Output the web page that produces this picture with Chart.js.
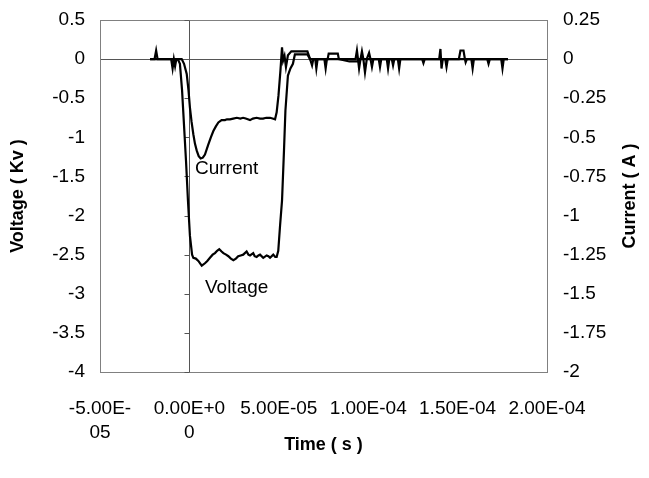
<!DOCTYPE html>
<html><head><meta charset="utf-8">
<script src="https://cdn.jsdelivr.net/npm/chart.js@4/dist/chart.umd.min.js"></script>
<style>html,body{margin:0;padding:0;background:#fff;overflow:hidden}</style>
</head><body>
<canvas id="c" width="649" height="478"></canvas>
<script>
// Voltage trace (time in microseconds, voltage in kV)
const voltageTimeUs = [-22,-19.5,-18.6,-17.8,-10.2,-9.4,-8.7,-8.0,-7.3,-6.5,-5.3,-4.1,-3.0,-1.9,-0.8,0.3,1.5,2.2,3.6,5.0,6.9,8.7,10.0,11.5,13.0,14.3,15.5,16.7,18.0,19.0,20.5,21.8,23.2,24.6,26.0,27.3,28.7,30.1,32.0,33.0,33.9,35.7,36.5,37.6,38.6,39.5,41.3,43.2,44.2,45.1,46.9,48.0,48.8,49.7,50.7,51.8,52.9,53.7,55.1,56.5,57.9,59.0,63.0,66.0,67.5,68.0,68.6,69.3,70.4,71.0,71.7,75.5,76.2,76.9,92.9,93.7,94.3,94.9,95.7,96.5,97.3,98.2,99.2,100.5,101.3,102.1,102.9,105.9,106.6,107.3,110.4,111.1,111.8,113.2,113.9,114.6,116.6,117.3,118.0,130.2,130.9,131.6,139.7,140.4,141.0,141.7,143.1,143.8,144.5,150.7,151.6,153.3,154.1,154.5,155.2,157.7,158.4,159.1,166.6,167.3,168.0,174.4,175.1,175.8,178.2];
const voltageKv = [0,0,0.11,0,0,-0.12,0,-0.09,0,0,-0.06,-0.40,-0.85,-1.30,-1.81,-2.26,-2.50,-2.54,-2.55,-2.58,-2.64,-2.61,-2.58,-2.54,-2.50,-2.48,-2.45,-2.43,-2.46,-2.48,-2.50,-2.52,-2.55,-2.57,-2.55,-2.52,-2.51,-2.50,-2.46,-2.50,-2.51,-2.48,-2.52,-2.53,-2.51,-2.50,-2.54,-2.51,-2.52,-2.54,-2.50,-2.53,-2.53,-2.45,-2.13,-1.81,-1.17,-0.66,-0.21,-0.12,-0.06,0.06,0.06,0.06,0,0,-0.08,0,0,-0.12,0,0,-0.12,0,0,0.11,0,-0.12,0,0.10,0,-0.17,0,0.08,0,-0.10,0,0,-0.10,0,0,-0.12,0,0,-0.08,0,0,-0.12,0,0,-0.05,0,0,0.13,-0.12,0,0,-0.10,0,0,0.11,0.11,0,-0.04,0,0,-0.12,0,0,-0.06,0,0,-0.12,0,0];

// Current trace (time in microseconds, current in A)
const currentTimeUs = [-22,-4.3,-3.0,-1.5,-0.5,0.3,1.2,2.2,3.1,4.1,5.2,6.3,7.5,8.7,10.6,12.0,13.4,14.8,16.2,18.0,19.9,21.0,22.7,24.5,26.5,28.5,30.0,31.5,33.9,35.5,37.6,39.5,41.2,43.0,45.1,46.5,47.9,48.8,49.8,50.9,51.8,52.4,53.2,54.0,55.1,57.0,63.0,66.0,67.5,77.3,77.9,83.0,83.6,89.5,94.0,95.0,178.2];
const currentA = [0,0,-0.03,-0.095,-0.2,-0.31,-0.40,-0.48,-0.54,-0.585,-0.62,-0.635,-0.63,-0.61,-0.545,-0.50,-0.46,-0.43,-0.405,-0.39,-0.39,-0.385,-0.385,-0.38,-0.375,-0.38,-0.375,-0.38,-0.39,-0.38,-0.375,-0.38,-0.38,-0.375,-0.375,-0.38,-0.385,-0.34,-0.235,-0.075,0.075,-0.01,0.02,-0.05,0.025,0.05,0.05,0.05,0,0,0.035,0.035,0,-0.015,-0.015,0,0];

// Axis ticks
const xTickValues = [-5e-5, 0, 5e-5, 1e-4, 1.5e-4, 2e-4];
const xTickLabels = [["-5.00E-","05"], ["0.00E+0","0"], "5.00E-05", "1.00E-04", "1.50E-04", "2.00E-04"];
const voltageTicks = [0.5, 0, -0.5, -1, -1.5, -2, -2.5, -3, -3.5, -4];
const voltageTickLabels = ["0.5","0","-0.5","-1","-1.5","-2","-2.5","-3","-3.5","-4"];
const currentTicks = [0.25, 0, -0.25, -0.5, -0.75, -1, -1.25, -1.5, -1.75, -2];
const currentTickLabels = ["0.25","0","-0.25","-0.5","-0.75","-1","-1.25","-1.5","-1.75","-2"];

// In-plot text labels (anchored in data coordinates)
const seriesLabels = [
  {text: "Current", t: 3.1e-6, v: -1.40},
  {text: "Voltage", t: 8.7e-6, v: -2.92}
];
const rightTitle = "Current ( A )";

const FONT = "'Liberation Sans', Arial, Helvetica, sans-serif";
const TICK_SIZE = 19;
const voltageData = voltageTimeUs.map((t, i) => ({x: t * 1e-6, y: voltageKv[i]}));
const currentData = currentTimeUs.map((t, i) => ({x: t * 1e-6, y: currentA[i]}));

const framePlugin = {
  id: 'frame',
  beforeDatasetsDraw(chart) {
    const {ctx, chartArea: a, scales} = chart;
    ctx.save();
    ctx.strokeStyle = '#808080';
    ctx.lineWidth = 1;
    ctx.strokeRect(Math.round(a.left) + 0.5, Math.round(a.top) + 0.5, Math.round(a.right - a.left), Math.round(a.bottom - a.top));
    // tick marks on the vertical axis crossing at x = 0
    const x0 = Math.round(scales.x.getPixelForValue(0)) + 0.5;
    ctx.strokeStyle = '#555';
    ctx.beginPath();
    voltageTicks.forEach(v => {
      const py = Math.round(scales.y.getPixelForValue(v)) + 0.5;
      ctx.moveTo(x0 - 5, py); ctx.lineTo(x0, py);
    });
    ctx.stroke();
    ctx.restore();
  },
  afterDatasetsDraw(chart) {
    const {ctx, scales, chartArea: a} = chart;
    ctx.save();
    ctx.fillStyle = '#000';
    ctx.font = TICK_SIZE + "px " + FONT;
    ctx.textAlign = 'left';
    ctx.textBaseline = 'middle';
    seriesLabels.forEach(l => {
      ctx.fillText(l.text, scales.x.getPixelForValue(l.t), scales.y.getPixelForValue(l.v));
    });
    // right axis title, reading bottom-to-top
    const s = scales.y1;
    ctx.font = "bold 18px " + FONT;
    ctx.textAlign = 'center';
    ctx.translate(s.right - 19, (a.top + a.bottom) / 2);
    ctx.rotate(-Math.PI / 2);
    ctx.fillText(rightTitle, 0, 0);
    ctx.restore();
  }
};

const zeroGrid = (ctx) => (ctx.tick && Math.abs(ctx.tick.value) < 1e-12) ? '#555' : 'rgba(0,0,0,0)';
const vFit = (w) => (s) => { s.width = w; s.paddingTop = 0; s.paddingBottom = 0; };

new Chart(document.getElementById('c'), {
  type: 'line',
  data: {
    datasets: [
      {label: 'Voltage', data: voltageData, yAxisID: 'y', borderColor: '#000', borderWidth: 2.2, pointRadius: 0, tension: 0, fill: false},
      {label: 'Current', data: currentData, yAxisID: 'y1', borderColor: '#000', borderWidth: 2.2, pointRadius: 0, tension: 0, fill: false}
    ]
  },
  options: {
    responsive: false,
    animation: false,
    devicePixelRatio: 1,
    layout: {padding: {top: 20, left: 0, right: 0, bottom: 0}},
    plugins: {legend: {display: false}, tooltip: {enabled: false}},
    scales: {
      x: {
        type: 'linear', position: 'bottom', min: -5e-5, max: 2e-4,
        afterBuildTicks: s => { s.ticks = xTickValues.map(v => ({value: v})); },
        afterFit: s => { s.height = 106; s.paddingLeft = 0; s.paddingRight = 0; },
        ticks: {
          color: '#000', padding: 25, maxRotation: 0, autoSkip: false,
          font: {family: FONT, size: TICK_SIZE, lineHeight: 1.25},
          callback: (v, i) => xTickLabels[i]
        },
        grid: {color: zeroGrid, drawTicks: false, lineWidth: 1},
        border: {display: false},
        title: {display: true, text: 'Time ( s )', color: '#000', font: {family: FONT, size: 18, weight: 'bold'}, padding: {top: 0, bottom: 22}}
      },
      y: {
        type: 'linear', position: 'left', min: -4, max: 0.5,
        afterBuildTicks: s => { s.ticks = voltageTicks.map(v => ({value: v})); },
        afterFit: vFit(100),
        ticks: {
          color: '#000', padding: 15, font: {family: FONT, size: TICK_SIZE},
          callback: (v, i) => voltageTickLabels[i]
        },
        grid: {color: zeroGrid, drawTicks: false, lineWidth: 1},
        border: {display: false},
        title: {display: true, text: 'Voltage ( Kv )', color: '#000', font: {family: FONT, size: 18, weight: 'bold'}, padding: {top: 7, bottom: 0}}
      },
      y1: {
        type: 'linear', position: 'right', min: -2, max: 0.25,
        afterBuildTicks: s => { s.ticks = currentTicks.map(v => ({value: v})); },
        afterFit: vFit(102),
        ticks: {
          color: '#000', padding: 16, font: {family: FONT, size: TICK_SIZE},
          callback: (v, i) => currentTickLabels[i]
        },
        grid: {display: false, drawTicks: false},
        border: {display: false},
        title: {display: false}
      }
    }
  },
  plugins: [framePlugin]
});
</script>
</body></html>
